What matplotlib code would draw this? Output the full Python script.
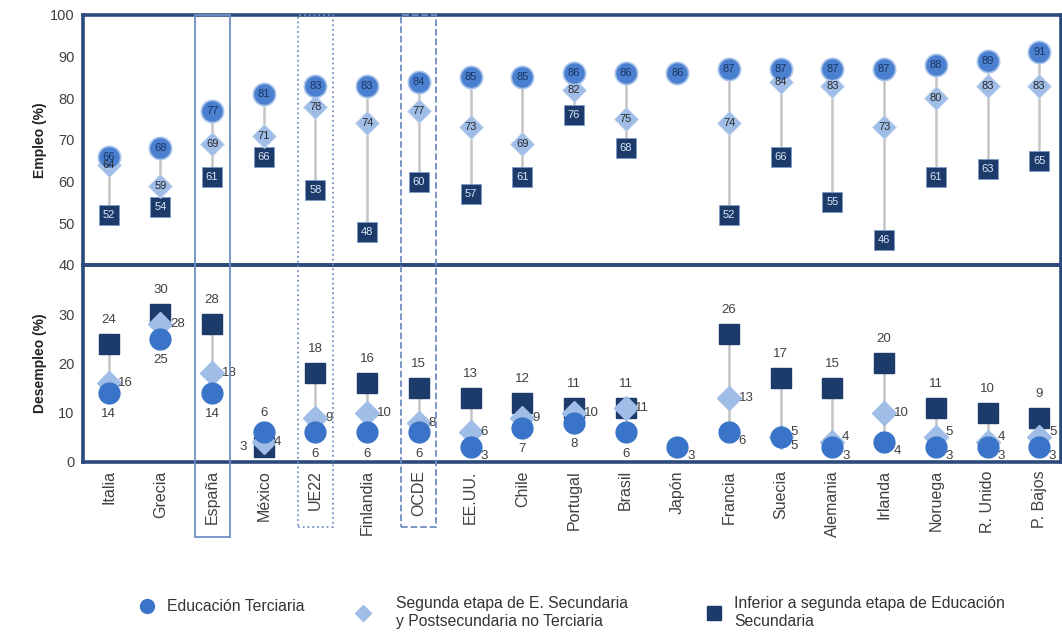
import numpy as np
import matplotlib
matplotlib.use("Agg")
import matplotlib.pyplot as plt
from matplotlib.lines import Line2D
from matplotlib.patches import Rectangle
from matplotlib.transforms import blended_transform_factory

plt.rcParams["font.family"] = ["Liberation Sans", "DejaVu Sans"]

nan = np.nan
countries = ["Italia", "Grecia", "España", "México", "UE22", "Finlandia", "OCDE", "EE.UU.",
             "Chile", "Portugal", "Brasil", "Japón", "Francia", "Suecia", "Alemania",
             "Irlanda", "Noruega", "R. Unido", "P. Bajos"]

# Empleo (%)
emp_terciaria = [66, 68, 77, 81, 83, 83, 84, 85, 85, 86, 86, 86, 87, 87, 87, 87, 88, 89, 91]
emp_secundaria = [64, 59, 69, 71, 78, 74, 77, 73, 69, 82, 75, nan, 74, 84, 83, 73, 80, 83, 83]
emp_inferior = [52, 54, 61, 66, 58, 48, 60, 57, 61, 76, 68, nan, 52, 66, 55, 46, 61, 63, 65]

# Desempleo (%)
des_terciaria = [14, 25, 14, 6, 6, 6, 6, 3, 7, 8, 6, 3, 6, 5, 3, 4, 3, 3, 3]
des_secundaria = [16, 28, 18, 4, 9, 10, 8, 6, 9, 10, 11, nan, 13, 5, 4, 10, 5, 4, 5]
des_inferior = [24, 30, 28, 3, 18, 16, 15, 13, 12, 11, 11, nan, 26, 17, 15, 20, 11, 10, 9]

highlight = {"España": "solid", "UE22": ":", "OCDE": "--"}

FRAME = "#2c4a7c"
C_TER = "#3a74c8"
C_SEC = "#9fbde6"
C_INF = "#1c3a6a"
LINE = "#c4c4c4"
TXT = "#404040"

x = np.arange(len(countries))

fig = plt.figure(figsize=(10.62, 6.32), dpi=100)
ax1 = fig.add_axes([0.078, 0.5807, 0.921, 0.3956])
ax2 = fig.add_axes([0.078, 0.2690, 0.921, 0.3117])
for ax in (ax1, ax2):
    ax.set_facecolor("none")
    for s in ax.spines.values():
        s.set_color(FRAME)
        s.set_linewidth(2.6)
    ax.set_xlim(-0.5, 18.42)
    ax.tick_params(length=0, labelsize=10.5, labelcolor=TXT, pad=6)

# --- Empleo ---
top = np.array([emp_terciaria, emp_secundaria, emp_inferior], dtype=float)
ax1.vlines(x, np.nanmin(top, axis=0), np.nanmax(top, axis=0), color=LINE, lw=1.8, zorder=1)
ax1.plot(x, emp_inferior, "s", ms=15, color=C_INF, mec="#7f9cc8", mew=0.6, zorder=2)
ax1.plot(x, emp_secundaria, "D", ms=12.5, color=C_SEC, mec="#c9d9ef", mew=0.6, zorder=3)
ax1.plot(x, emp_terciaria, "o", ms=16, color="#4a80cf", mec="#a9c4ea", mew=1.2, zorder=4)
for i in x:
    if not np.isnan(emp_inferior[i]):
        ax1.text(i, emp_inferior[i], f"{emp_inferior[i]:.0f}", ha="center", va="center",
                 fontsize=8, color="#dbe6f5", zorder=5)
    if not np.isnan(emp_secundaria[i]):
        ax1.text(i, emp_secundaria[i], f"{emp_secundaria[i]:.0f}", ha="center", va="center",
                 fontsize=8, color="#2b2b2b", zorder=5)
    ax1.text(i, emp_terciaria[i], f"{emp_terciaria[i]:.0f}", ha="center", va="center",
             fontsize=8, color="#1b355f", zorder=6)
ax1.set_ylim(40, 100)
ax1.set_yticks(range(40, 101, 10))
ax1.set_xticks([])
ax1.set_ylabel("Empleo (%)", fontsize=10, fontweight="bold", color="#222222")

# --- Desempleo ---
bot = np.array([des_terciaria, des_secundaria, des_inferior], dtype=float)
ax2.vlines(x, np.nanmin(bot, axis=0), np.nanmax(bot, axis=0), color=LINE, lw=1.8, zorder=1)
ax2.plot(x, des_inferior, "s", ms=15, color=C_INF, zorder=2, clip_on=False)
ax2.plot(x, des_secundaria, "D", ms=12, color=C_SEC, zorder=3, clip_on=False)
ax2.plot(x, des_terciaria, "o", ms=15, color=C_TER, zorder=4, clip_on=False)
for i in x:
    v = des_terciaria[i]
    if not np.isnan(des_inferior[i]):
        if des_inferior[i] < v:
            ax2.annotate(f"{des_inferior[i]:.0f}", (i, des_inferior[i]), xytext=(-12, 0),
                         textcoords="offset points", ha="right", va="center", fontsize=9.5, color=TXT)
        else:
            ax2.annotate(f"{des_inferior[i]:.0f}", (i, des_inferior[i]), xytext=(0, 13),
                         textcoords="offset points", ha="center", va="bottom", fontsize=9.5, color=TXT)
    if not np.isnan(des_secundaria[i]):
        dy = 4 if abs(des_secundaria[i] - v) <= 2 and i >= 12 else 0
        ax2.annotate(f"{des_secundaria[i]:.0f}", (i, des_secundaria[i]), xytext=(7, dy),
                     textcoords="offset points", ha="left", va="center", fontsize=9.5, color=TXT)
    if not np.isnan(des_inferior[i]) and v > des_inferior[i]:
        off, ha, va = (0, 10), "center", "bottom"
    elif i >= 12 or v < 4:
        off, ha, va = (7, -6), "left", "center"
    else:
        off, ha, va = (0, -11), "center", "top"
    ax2.annotate(f"{v:.0f}", (i, v), xytext=off, textcoords="offset points",
                 ha=ha, va=va, fontsize=9.5, color=TXT)
ax2.set_ylim(0, 40)
ax2.set_yticks(range(0, 40, 10))
ax2.set_xticks(x)
ax2.set_xticklabels(countries, rotation=90, fontsize=11.5)
ax2.set_ylabel("Desempleo (%)", fontsize=10, fontweight="bold", color="#222222")
ax1.yaxis.set_label_coords(-0.037, 0.5)
ax2.yaxis.set_label_coords(-0.037, 0.5)

# highlight boxes around España, UE22 and OCDE
trans = blended_transform_factory(ax2.transData, fig.transFigure)
for name, ls in highlight.items():
    i = countries.index(name)
    bottom = 0.150 if name == "España" else 0.166
    rect = Rectangle((i - 0.34, bottom), 0.68, 0.976 - bottom, transform=trans, fill=False,
                     edgecolor="#6f8fc4", lw=1.3, linestyle=ls, zorder=10)
    fig.add_artist(rect)

# legend: three separate entries placed like the original
entries = [
    (Line2D([], [], marker="o", ls="none", ms=10, color=C_TER), "Educación Terciaria",
     (0.131, 0.040), 0.8),
    (Line2D([], [], marker="D", ls="none", ms=8, color=C_SEC),
     "Segunda etapa de E. Secundaria\ny Postsecundaria no Terciaria", (0.334, 0.031), 1.6),
    (Line2D([], [], marker="s", ls="none", ms=10, color=C_INF),
     "Inferior a segunda etapa de Educación\nSecundaria", (0.665, 0.031), 0.8),
]
for h, lab, pos, pad in entries:
    fig.legend([h], [lab], loc="center left", bbox_to_anchor=pos, frameon=False, fontsize=11.3,
               borderpad=0, borderaxespad=0, handlelength=1.0, handletextpad=pad,
               labelcolor="#333333", labelspacing=0.2)

fig.savefig("out.png", dpi=100)
